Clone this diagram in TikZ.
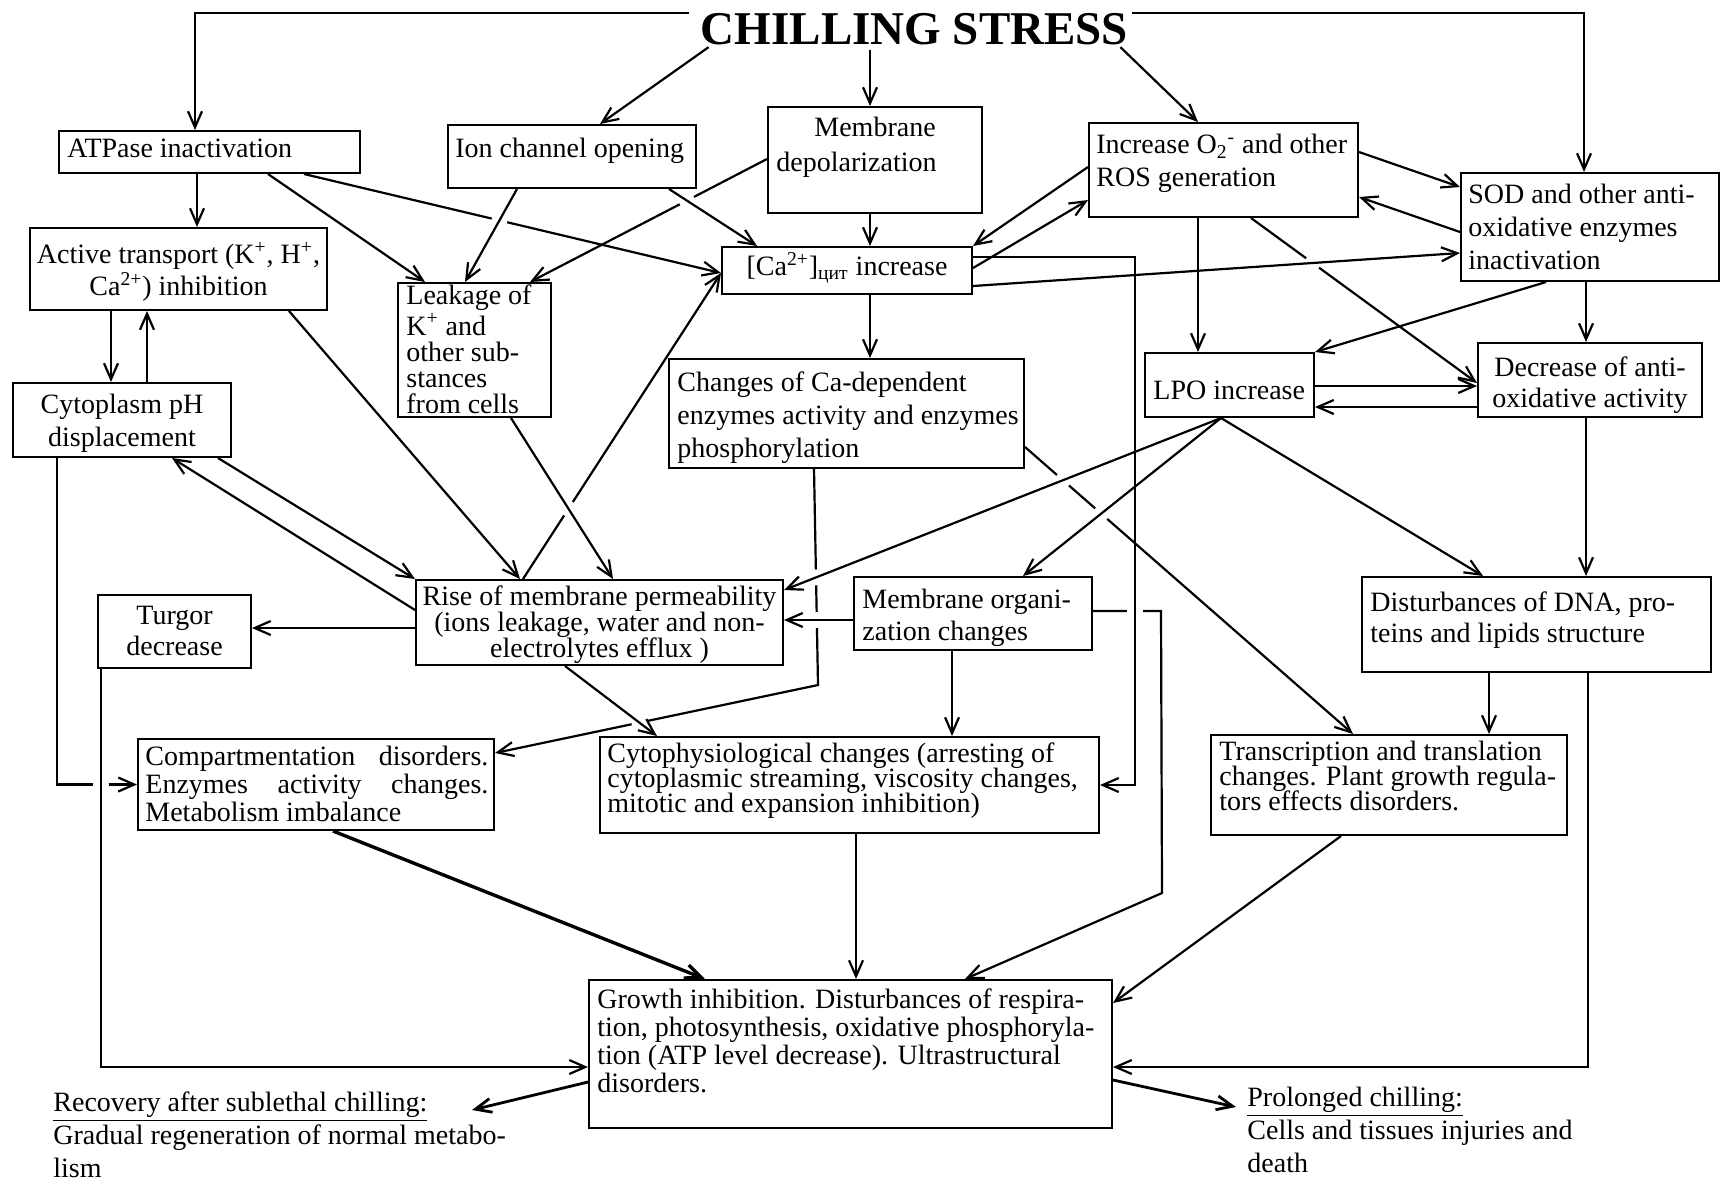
\documentclass[tikz,border=0pt]{standalone}
\usepackage{fontspec}
\setmainfont{Liberation Serif}
\usetikzlibrary{arrows.meta,fit,calc,intersections}
\pgfdeclarelayer{bg}
\pgfdeclarelayer{gaps}
\pgfsetlayers{bg,gaps,main}
\newcommand\fsz[1]{\fontsize{14}{#1}\selectfont\lineskiplimit=-30pt\relax}
\begin{document}
\begin{tikzpicture}[x=0.5pt,y=-0.5pt,
  bx/.style={draw, line width=1pt, inner sep=0pt},
  tx/.style={inner sep=0pt, align=left, font=\fsz{16.5}},
  arr/.style={line width=1.1pt, -{Straight Barb[length=8pt,width=7pt]}}]
\useasboundingbox (0,0) rectangle (1727,1180);
\node[inner sep=0pt,font=\fontsize{23.5}{28}\selectfont\bfseries] (title) at (914.5,29) {CHILLING STRESS};

% boxes
\node[bx, fit={(59,131) (360,173)}] (atp) {};
\node[bx, fit={(448,125) (696,188)}] (ion) {};
\node[bx, fit={(768,107) (982,213)}] (dep) {};
\node[bx, fit={(722,247) (972,294)}] (ca) {};
\node[bx, fit={(1089,123) (1358,217)}] (ros) {};
\node[bx, fit={(1461,173) (1719,281)}] (sod) {};
\node[bx, fit={(30,228) (327,310)}] (act) {};
\node[bx, fit={(398,283) (551,417)}] (leak) {};
\node[bx, fit={(13,383) (231,457)}] (cyt) {};
\node[bx, fit={(669,359) (1024,468)}] (chg) {};
\node[bx, fit={(1145,353) (1314,417)}] (lpo) {};
\node[bx, fit={(1478,343) (1702,417)}] (dec) {};
\node[bx, fit={(416,580) (783,665)}] (rise) {};
\node[bx, fit={(98,595) (251,668)}] (turg) {};
\node[bx, fit={(854,577) (1092,650)}] (mem) {};
\node[bx, fit={(1362,577) (1711,672)}] (dna) {};
\node[bx, fit={(138,739) (494,830)}] (comp) {};
\node[bx, fit={(600,737) (1099,833)}] (cyto) {};
\node[bx, fit={(1211,735) (1567,835)}] (trans) {};
\node[bx, fit={(589,980) (1112,1128)}] (grow) {};

% texts
\node[tx, anchor=north west] (atpT) at (67,139) {ATPase inactivation};
\node[tx, anchor=north west] (ionT) at (455,138) {Ion channel opening};
\node[tx, anchor=north west, font=\fsz{17.5}] (depT) at (776,117) {\hspace*{19pt}Membrane\\depolarization};
\node[tx, anchor=center] (caT) at (847,268) {[Ca\textsuperscript{2+}]\textsubscript{цит} increase};
\node[tx, anchor=north west] (rosT) at (1096,134) {Increase O\textsubscript{2}\textsuperscript{-} and other\\ROS generation};
\node[tx, anchor=north west] (sodT) at (1468,184) {SOD and other anti-\\oxidative enzymes\\inactivation};
\node[tx, anchor=north, align=center, font=\fsz{16}] (actT) at (178.5,242) {Active transport (K\textsuperscript{+}, H\textsuperscript{+},\\Ca\textsuperscript{2+}) inhibition};
\node[tx, anchor=north west, font=\fsz{13}] (leakT) at (406,284) {Leakage of\\[2.5pt]K\textsuperscript{+} and\\other sub-\\stances\\from cells};
\node[tx, anchor=north, align=center] (cytT) at (122,394) {Cytoplasm pH\\displacement};
\node[tx, anchor=north west] (chgT) at (677,371) {Changes of Ca-dependent\\enzymes activity and enzymes\\phosphorylation};
\node[tx, anchor=west] (lpoT) at (1153,390) {LPO increase};
\node[tx, anchor=north, align=center, font=\fsz{15.5}] (decT) at (1590,356) {Decrease of anti-\\oxidative activity};
\node[tx, anchor=north, align=center, font=\fsz{13}] (riseT) at (599.5,585) {Rise of membrane permeability\\(ions leakage, water and non-\\electrolytes efflux )};
\node[tx, anchor=north, align=center, font=\fsz{15.5}] (turgT) at (174.5,606) {Turgor\\decrease};
\node[tx, anchor=north west, font=\fsz{16}] (memT) at (862,589) {Membrane organi-\\zation changes};
\node[tx, anchor=north west, font=\fsz{15.5}] (dnaT) at (1370,591) {Disturbances of DNA, pro-\\teins and lipids structure};
\node[tx, anchor=north west, font=\fsz{14}] (compT) at (145,746) {\makebox[171.5pt][s]{Compartmentation disorders.}\\\makebox[171.5pt][s]{Enzymes activity changes.}\\Metabolism imbalance};
\node[tx, anchor=north west, font=\fsz{12.5}] (cytoT) at (607,742) {Cytophysiological changes (arresting of\\cytoplasmic streaming, viscosity changes,\\mitotic and expansion inhibition)};
\node[tx, anchor=north west, font=\fsz{12.5}] (transT) at (1219,741) {Transcription and translation\\changes. Plant growth regula-\\tors effects disorders.};
\node[tx, anchor=north west, font=\fsz{14}] (growT) at (597,988) {Growth inhibition. Disturbances of respira-\\tion, photosynthesis, oxidative phosphoryla-\\tion (ATP level decrease). Ultrastructural\\disorders.};
\node[tx, anchor=north west] (recT) at (53,1091) {\underline{Recovery after sublethal chilling:}\\Gradual regeneration of normal metabo-\\lism};
\node[tx, anchor=north west] (proT) at (1247,1087) {\underline{Prolonged chilling:}\\Cells and tissues injuries and\\death};

% bend points and free ends
\coordinate (cB) at (818,685);
\coordinate (cC) at (1161,611);
\coordinate (cD) at (1162,893);
\coordinate (recA) at (472,1110);
\coordinate (proA) at (1236,1107);

% connectors that pass under others
\begin{pgfonlayer}{bg}
\draw[arr, name path global=u8] (304,0 |- atp.south) -- (ca.west |- 0,273);
\draw[arr, name path global=u12] (dep.west |- 0,159) -- (530,0 |- leak.north);
\draw[arr, name path global=u18] (523,0 |- rise.north) -- (ca.west |- 0,273);
\draw[arr, name path global=u32] (814,0 |- chg.south) -- (cB) -- (comp.east |- 0,753);
\draw[arr, name path global=u36] (mem.east |- 0,611) -- (cC) -- (cD) -- (965,0 |- grow.north);
\draw[arr, name path global=u31] (chg.east |- 0,447) -- (1353,0 |- trans.north);
\draw[arr, name path global=u22] (1251,0 |- ros.south) -- (dec.west |- 0,383);
\draw[arr, name path global=u47] (57,0 |- cyt.south) |- (comp.west);
\end{pgfonlayer}

% other connectors
\draw[arr] ([xshift=-6pt]title.north west) -| (195,0 |- atp.north);
\draw[arr] ([xshift=2pt]title.north east) -| (1584,0 |- sod.north);
\draw[arr] ([xshift=4pt,yshift=-1pt]title.south west) -- (600,0 |- ion.north);
\draw[arr] ($(870,0 |- title.south)+(0,5)$) -- (870,0 |- dep.north);
\draw[arr] ([xshift=-4pt,yshift=-1pt]title.south east) -- (1198,0 |- ros.north);
\draw[arr] (197,0 |- atp.south) -- (197,0 |- act.north);
\draw[arr] (268,0 |- atp.south) -- (425,0 |- leak.north);
\draw[arr, name path global=o9] (517,0 |- ion.south) -- (465,0 |- leak.north);
\draw[arr, name path global=o10] (669,0 |- ion.south) -- (757,0 |- ca.north);
\draw[arr] (870,0 |- dep.south) -- (870,0 |- ca.north);
\draw[arr] (ros.west |- 0,167) -- (ca.north east);
\draw[arr] (ca.east |- 0,268) -- (ros.west |- 0,200);
\draw[arr, name path global=o15] (ca.east |- 0,257) -| ($(cyto.east)+(35,0)$) -- (cyto.east);
\draw[arr, name path global=o16] (ca.east |- 0,286) -- (sod.west |- 0,253);
\draw[arr] (870,0 |- ca.south) -- (870,0 |- chg.north);
\draw[arr] (ros.east |- 0,152) -- (sod.west |- 0,187);
\draw[arr] (sod.west |- 0,232) -- (ros.east |- 0,197);
\draw[arr] (1198,0 |- ros.south) -- (1198,0 |- lpo.north);
\draw[arr] (1546,0 |- sod.south) -- (lpo.north east);
\draw[arr] (1586,0 |- sod.south) -- (1586,0 |- dec.north);
\draw[arr] (lpo.east |- 0,386) -- (dec.west |- 0,386);
\draw[arr] (dec.west |- 0,407) -- (lpo.east |- 0,407);
\draw[arr] (1586,0 |- dec.south) -- (1586,0 |- dna.north);
\draw[arr] (1221,0 |- lpo.south) -- (1483,0 |- dna.north);
\draw[arr, name path global=o29] (1221,0 |- lpo.south) -- (rise.east |- 0,590);
\draw[arr, name path global=o30] (1221,0 |- lpo.south) -- (1023,0 |- mem.north);
\draw[arr] (1489,0 |- dna.south) -- (1489,0 |- trans.north);
\draw[arr] (1588,0 |- dna.south) |- (grow.east |- 0,1067);
\draw[arr] (1341,0 |- trans.south) -- (grow.east |- 0,1003);
\draw[arr] (111,0 |- act.south) -- (111,0 |- cyt.north);
\draw[arr] (147,0 |- cyt.north) -- (147,0 |- act.south);
\draw[arr] (289,0 |- act.south) -- (520,0 |- rise.north);
\draw[arr, name path global=o40] (511,0 |- leak.south) -- (613,0 |- rise.north);
\draw[arr] (218,0 |- cyt.south) -- (rise.north west);
\draw[arr] (rise.west |- 0,610) -- (172,0 |- cyt.south);
\draw[arr] (rise.west |- 0,628) -- (turg.east |- 0,628);
\draw[arr, name path global=o44] (mem.west |- 0,620) -- (rise.east |- 0,620);
\draw[arr] (952,0 |- mem.south) -- (952,0 |- cyto.north);
\draw[arr, name path global=o46] (565,0 |- rise.south) -- (657,0 |- cyto.north);
\draw[arr, name path global=o48] (101,0 |- turg.south) |- (grow.west |- 0,1067);
\draw[arr, line width=1.7pt] (333,0 |- comp.south) -- (705,0 |- grow.north);
\draw[arr] (856,0 |- cyto.south) -- (856,0 |- grow.north);
\draw[arr, line width=1.4pt] (grow.west |- 0,1082) -- (recA);
\draw[arr, line width=1.4pt] (grow.east |- 0,1080) -- (proA);

% gaps where lines cross
\begin{pgfonlayer}{gaps}
\path[name intersections={of=u8 and o9,by=g1}];
\path[name intersections={of=u12 and o10,by=g2}];
\path[name intersections={of=u18 and o40,by=g3}];
\path[name intersections={of=u32 and o29,by=g4}];
\path[name intersections={of=u32 and o44,by=g5}];
\path[name intersections={of=u32 and o46,by=g6}];
\path[name intersections={of=u36 and o15,by=g7}];
\path[name intersections={of=u31 and o29,by=g8}];
\path[name intersections={of=u31 and o30,by=g9}];
\path[name intersections={of=u22 and o16,by=g10}];
\path[name intersections={of=u47 and o48,by=g11}];
\foreach \i in {1,...,11} \fill[white] (g\i) circle (4pt);
\end{pgfonlayer}
\end{tikzpicture}
\end{document}
